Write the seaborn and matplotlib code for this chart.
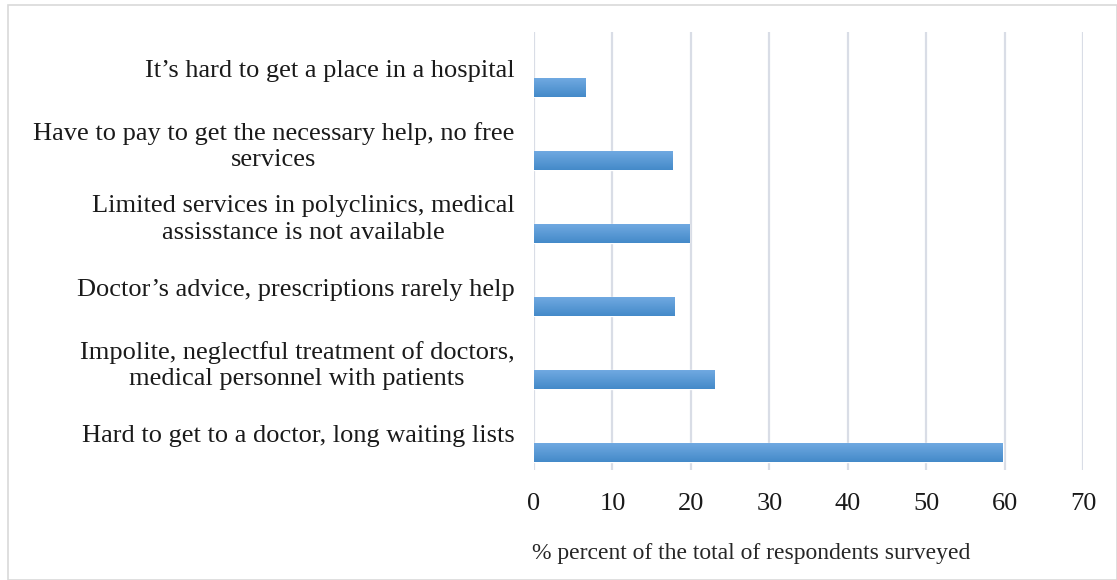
import numpy as np
import pandas as pd
import matplotlib.pyplot as plt
import seaborn as sns
from matplotlib.colors import LinearSegmentedColormap
from matplotlib.patches import Rectangle

reasons = [
    "It\u2019s hard to get a place in a hospital",
    "Have to pay to get the necessary help, no free\nservices",
    "Limited services in polyclinics, medical\nassisstance is not available",
    "Doctor\u2019s advice, prescriptions rarely help",
    "Impolite, neglectful treatment of doctors,\nmedical personnel with patients",
    "Hard to get to a doctor, long waiting lists",
]
percent = [6.5, 17.7, 19.8, 17.9, 23.0, 59.7]
x_ticks = [0, 10, 20, 30, 40, 50, 60, 70]

sns.set_theme(style="white")
plt.rcParams["font.family"] = ["Liberation Serif", "DejaVu Serif"]
plt.rcParams["text.color"] = "#1a1a1a"
plt.rcParams["xtick.color"] = "#1a1a1a"
plt.rcParams["ytick.color"] = "#1a1a1a"

df = pd.DataFrame({"reason": reasons, "percent": percent, "series": "pct"})

fig = plt.figure(figsize=(11.17, 5.8), dpi=100)
ax = fig.add_axes([0.478, 0.189, 0.492, 0.755])

# two empty hue slots push the bar to the lower part of each category, like the excel original
sns.barplot(data=df, y="reason", x="percent", hue="series",
            hue_order=["_a", "_b", "pct"], palette={"_a": "w", "_b": "w", "pct": "#5b9bd5"},
            dodge=True, width=0.78, orient="h", legend=False, ax=ax, zorder=3)

# vertical gradient on each bar
cmap = LinearSegmentedColormap.from_list("bar", ["#70a9e1", "#448ac9"])
grad = np.linspace(0, 1, 64).reshape(-1, 1)
for p in ax.patches:
    if p.get_width() <= 0 or np.isnan(p.get_width()):
        continue
    x0, y0 = p.get_x(), p.get_y()
    w, h = p.get_width(), p.get_height()
    im = ax.imshow(grad, cmap=cmap, aspect="auto", extent=(x0, x0 + w, y0 + h, y0),
                   origin="upper", zorder=4)
    im.set_clip_path(p)

ax.set_xlim(0, 70)
ax.set_ylim(len(reasons) - 0.5, -0.5)
ax.set_xticks(x_ticks)
ax.set_xticklabels([str(t) for t in x_ticks], fontsize=19)
ax.grid(axis="x", color="#d9dde6", linewidth=1.6, zorder=0)
ax.grid(axis="y", visible=False)
for s in ax.spines.values():
    s.set_visible(False)
ax.tick_params(axis="x", length=0, pad=16)
ax.tick_params(axis="y", length=0, pad=14)
for lab in ax.get_yticklabels():
    lab.set_fontsize(19)
    lab.set_multialignment("center")
    lab.set_linespacing(1.25)
ax.set_ylabel("")
ax.set_xlabel("% percent of the total of respondents surveyed", fontsize=17)
ax.xaxis.set_label_coords(0.395, -0.165)

fig.patches.append(Rectangle((0.007, 0.0), 0.993, 0.991, transform=fig.transFigure,
                             fill=False, edgecolor="#d9d9d9", linewidth=1.2))

fig.savefig("out.png", dpi=100)
